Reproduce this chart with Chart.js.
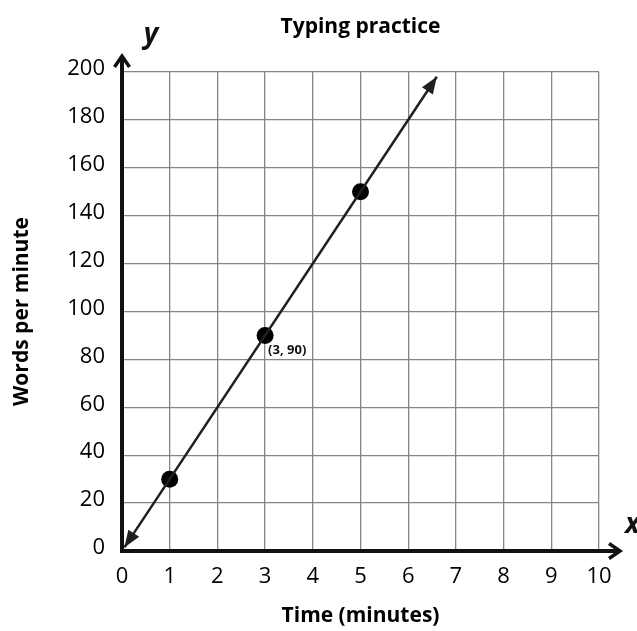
<!DOCTYPE html>
<html>
<head>
<meta charset="utf-8">
<script src="https://cdn.jsdelivr.net/npm/chart.js@4.4.0/dist/chart.umd.min.js"></script>
<style>
  html, body { margin: 0; padding: 0; background: #ffffff; }
  #wrap { position: relative; width: 637px; height: 631px; }
</style>
</head>
<body>
<div id="wrap"><canvas id="c" width="637" height="631"></canvas></div>
<script>
// ---- data ----
const chartTitle = 'Typing practice';
const xAxisTitle = 'Time (minutes)';
const yAxisTitle = 'Words per minute';
const xTickValues = [0, 1, 2, 3, 4, 5, 6, 7, 8, 9, 10];
const yTickValues = [0, 20, 40, 60, 80, 100, 120, 140, 160, 180, 200];
const pointX = [1, 3, 5];
const pointY = [30, 90, 150];
const lineX = [0.05, 6.6];
const lineY = [1.5, 198];
const labelX = [3];
const labelY = [90];
const labelText = ['(3, 90)'];

const INK = '#231f20';
const FONT = "'Open Sans', 'Noto Sans', sans-serif";

const overlay = {
  id: 'overlay',
  afterDatasetsDraw(chart) {
    const ctx = chart.ctx;
    const xs = chart.scales.x, ys = chart.scales.y;
    const x0 = xs.getPixelForValue(0), y0 = ys.getPixelForValue(0);
    const yTop = ys.getPixelForValue(200), xRight = xs.getPixelForValue(10);
    ctx.save();
    // line arrowheads
    const meta = chart.getDatasetMeta(0);
    const pts = meta.data;
    function head(tip, from) {
      const ang = Math.atan2(tip.y - from.y, tip.x - from.x);
      const L = 17, W = 6.5;
      ctx.beginPath();
      ctx.moveTo(tip.x, tip.y);
      ctx.lineTo(tip.x - L * Math.cos(ang) + W * Math.sin(ang), tip.y - L * Math.sin(ang) - W * Math.cos(ang));
      ctx.lineTo(tip.x - L * Math.cos(ang) - W * Math.sin(ang), tip.y - L * Math.sin(ang) + W * Math.cos(ang));
      ctx.closePath();
      ctx.fillStyle = INK;
      ctx.fill();
    }
    if (pts.length >= 2) {
      head(pts[pts.length - 1], pts[0]);
      head(pts[0], pts[pts.length - 1]);
    }
    // axes
    ctx.strokeStyle = '#111';
    ctx.lineWidth = 4;
    ctx.lineCap = 'butt';
    ctx.beginPath();
    ctx.moveTo(x0, y0 + 2);
    ctx.lineTo(x0, yTop - 15);
    ctx.moveTo(x0 - 2, y0);
    ctx.lineTo(xRight + 20, y0);
    ctx.stroke();
    ctx.lineWidth = 3.5;
    ctx.lineJoin = 'miter';
    ctx.beginPath();
    ctx.moveTo(x0 - 7.5, yTop - 5);
    ctx.lineTo(x0, yTop - 16);
    ctx.lineTo(x0 + 7.5, yTop - 5);
    ctx.moveTo(xRight + 10, y0 - 7.5);
    ctx.lineTo(xRight + 21, y0);
    ctx.lineTo(xRight + 10, y0 + 7.5);
    ctx.stroke();
    // point label
    ctx.fillStyle = '#111';
    ctx.font = "bold 13px " + FONT;
    ctx.textAlign = 'left';
    ctx.textBaseline = 'middle';
    for (let i = 0; i < labelText.length; i++) {
      ctx.fillText(labelText[i], xs.getPixelForValue(labelX[i]) + 3, ys.getPixelForValue(labelY[i]) + 15);
    }
    // axis letters
    ctx.fillStyle = '#111';
    ctx.font = "italic bold 28px " + FONT;
    ctx.textAlign = 'center';
    ctx.fillText('y', x0 + 29, yTop - 37);
    ctx.textAlign = 'left';
    ctx.fillText('x', xRight + 26, y0 - 26);
    ctx.restore();
  }
};

new Chart(document.getElementById('c'), {
  type: 'scatter',
  data: {
    datasets: [
      {
        data: lineX.map((x, i) => ({ x: x, y: lineY[i] })),
        showLine: true,
        borderColor: INK,
        borderWidth: 2.5,
        pointRadius: 0,
        fill: false
      },
      {
        data: pointX.map((x, i) => ({ x: x, y: pointY[i] })),
        showLine: false,
        pointRadius: 8.5,
        pointBackgroundColor: '#000',
        pointBorderColor: '#000',
        pointBorderWidth: 0
      }
    ]
  },
  options: {
    responsive: false,
    animation: false,
    layout: { padding: { left: 0, right: 38, top: 0, bottom: 0 } },
    plugins: {
      legend: { display: false },
      tooltip: { enabled: false },
      title: {
        display: true,
        text: chartTitle,
        fullSize: false,
        color: '#000',
        font: { family: FONT, size: 21, weight: 'bold', lineHeight: 1.2 },
        padding: { top: 14, bottom: 32.8 }
      }
    },
    scales: {
      x: {
        type: 'linear',
        min: 0, max: 10,
        afterFit(s) { s.height = 80; },
        afterBuildTicks(s) { s.ticks = xTickValues.map(v => ({ value: v })); },
        grid: { color: '#858585', lineWidth: 1.3, drawTicks: false },
        border: { display: false },
        ticks: { color: '#000', padding: 13, font: { family: FONT, size: 22 } },
        title: {
          display: true, text: xAxisTitle, color: '#000',
          font: { family: FONT, size: 21, weight: 'bold', lineHeight: 1.2 },
          padding: { top: 0, bottom: 2.5 }
        }
      },
      y: {
        type: 'linear',
        min: 0, max: 200,
        afterFit(s) { s.width = 122; },
        afterBuildTicks(s) { s.ticks = yTickValues.map(v => ({ value: v })); },
        grid: { color: '#858585', lineWidth: 1.3, drawTicks: false },
        border: { display: false },
        ticks: { color: '#000', padding: 17, labelOffset: -3, font: { family: FONT, size: 22 } },
        title: {
          display: true, text: yAxisTitle, color: '#000',
          font: { family: FONT, size: 21, weight: 'bold', lineHeight: 1.2 },
          padding: { top: 9.5, bottom: 0 }
        }
      }
    }
  },
  plugins: [overlay]
});
</script>
</body>
</html>
